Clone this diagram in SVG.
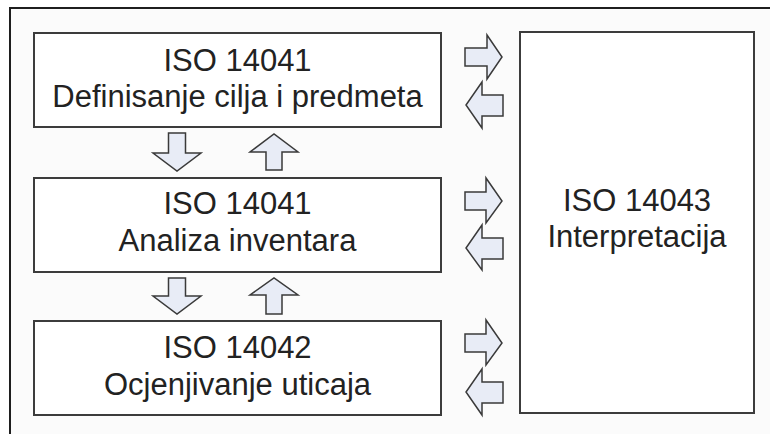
<svg xmlns="http://www.w3.org/2000/svg" width="770" height="434" viewBox="0 0 770 434">
<defs>
<style>
.box{fill:#ffffff;stroke:#3c3c3c;stroke-width:2}
.t{font-family:"Liberation Sans",Arial,sans-serif;font-size:31px;fill:#222;text-anchor:middle}
.arr{fill:#e8ecf6;stroke:#3a3a3a;stroke-width:1.5;stroke-linejoin:miter}
</style>
</defs>
<rect x="0" y="0" width="770" height="434" fill="#ffffff"/>
<rect x="10" y="8" width="760" height="426" fill="#fbfbfb"/>
<path d="M10,434 V8 H770" fill="none" stroke="#1e1e1e" stroke-width="2"/>

<g id="box-goal">
<rect class="box" x="34" y="33" width="407" height="94"/>
<text class="t" x="237.5" y="71">ISO 14041</text>
<text class="t" x="237.5" y="107">Definisanje cilja i predmeta</text>
</g>
<g id="box-inventory">
<rect class="box" x="34" y="178" width="407" height="94"/>
<text class="t" x="237.5" y="214">ISO 14041</text>
<text class="t" x="237.5" y="251">Analiza inventara</text>
</g>
<g id="box-impact">
<rect class="box" x="34" y="321" width="407" height="94"/>
<text class="t" x="237.5" y="358">ISO 14042</text>
<text class="t" x="237.5" y="395">Ocjenjivanje uticaja</text>
</g>
<g id="box-interpretation">
<rect class="box" x="520" y="32" width="234" height="381"/>
<text class="t" x="637" y="211">ISO 14043</text>
<text class="t" x="637" y="247">Interpretacija</text>
</g>

<g id="connectors">
<!-- vertical: box1 <-> box2 -->
<path class="arr" d="M168.5,133 H185.5 V153 H201 L177,171 L153,153 H168.5 Z"/>
<path class="arr" d="M266,170 V152 H250 L274,134 L298,152 H282 V170 Z"/>
<!-- vertical: box2 <-> box3 -->
<path class="arr" d="M168.5,278 H185.5 V296 H201 L177,314 L153,296 H168.5 Z"/>
<path class="arr" d="M266,314 V295 H250 L274,278 L298,295 H282 V314 Z"/>
<!-- horizontal: box1 <-> interpretation -->
<path class="arr" d="M465,48 H487 V35 L502,57 L487,79 V66 H465 Z"/>
<path class="arr" d="M503,95 H482 V82 L466,105 L482,128 V116 H503 Z"/>
<!-- horizontal: box2 <-> interpretation -->
<path class="arr" d="M465,192 H486 V178 L502,201 L486,223 V210 H465 Z"/>
<path class="arr" d="M503,238 H482 V225 L466,248 L482,270 V259 H503 Z"/>
<!-- horizontal: box3 <-> interpretation -->
<path class="arr" d="M465,334 H486 V320 L502,343 L486,365 V352 H465 Z"/>
<path class="arr" d="M503,382 H482 V369 L466,392 L482,415 V403 H503 Z"/>
</g>
</svg>
